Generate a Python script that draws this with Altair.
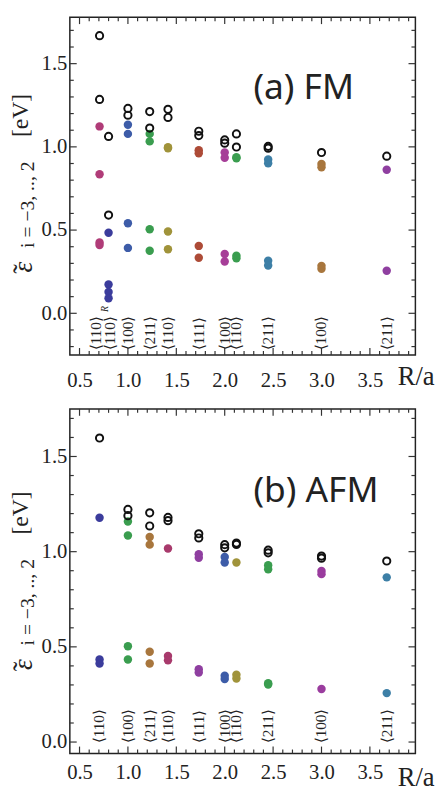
import altair as alt
import pandas as pd

SERIF = "Liberation Serif"
SANS = "Noto Sans"
INK = "#222222"

# colours
MAG1 = "#b03c78"; IND = "#3b3c9c"; BLU = "#3d5ca8"; GRN = "#3a9d4f"; OLV = "#a0933a"
RED = "#ad4b37"; MAG2 = "#a63e98"; TEAL = "#3d7fa6"; BRN = "#a8763d"; PUR = "#8f3fa0"
ROSE = "#a83a6c"; PUR2 = "#9a3c9e"

# ---------------- panel (a) FM ----------------
a_open_r = [0.707, 0.707, 0.8, 0.8, 1.0, 1.0, 1.225, 1.225, 1.414, 1.414, 1.732, 1.732,
            2.0, 2.0, 2.121, 2.121, 2.449, 2.449, 3.0, 3.674]
a_open_e = [1.668, 1.285, 1.063, 0.590, 1.231, 1.190, 1.212, 1.113, 1.226, 1.177, 1.094, 1.068,
            1.042, 1.022, 1.078, 0.999, 1.003, 0.992, 0.966, 0.944]

a_fill_r = [0.707] * 4 + [0.8] * 4 + [1.0] * 4 + [1.225] * 4 + [1.414] * 4 + [1.732] * 4 + \
           [2.0] * 4 + [2.121] * 4 + [2.449] * 4 + [3.0] * 4 + [3.674] * 2
a_fill_e = [1.123, 0.836, 0.425, 0.410,
            0.484, 0.173, 0.128, 0.090,
            1.133, 1.078, 0.541, 0.393,
            1.078, 1.033, 0.505, 0.376,
            0.998, 0.992, 0.492, 0.385,
            0.980, 0.962, 0.405, 0.334,
            0.966, 0.934, 0.356, 0.311,
            0.938, 0.932, 0.346, 0.331,
            0.924, 0.901, 0.316, 0.287,
            0.897, 0.877, 0.285, 0.267,
            0.862, 0.256]
a_fill_c = [MAG1] * 4 + [IND] * 4 + [BLU] * 4 + [GRN] * 4 + [OLV] * 4 + [RED] * 4 + \
           [MAG2] * 4 + [GRN] * 4 + [TEAL] * 4 + [BRN] * 4 + [PUR] * 2

# label positions along R/a (the first two are spread apart in the figure)
a_lab_r = [0.668, 0.82, 1.0, 1.225, 1.414, 1.732, 2.0, 2.121, 2.449, 3.0, 3.674]
a_lab_t = ["⟨110⟩", "⟨110⟩", "⟨100⟩", "⟨211⟩", "⟨110⟩", "⟨111⟩", "⟨100⟩", "⟨110⟩", "⟨211⟩", "⟨100⟩", "⟨211⟩"]

# ---------------- panel (b) AFM ----------------
b_open_r = [0.707, 1.0, 1.0, 1.225, 1.225, 1.414, 1.414, 1.732, 1.732, 2.0, 2.0,
            2.121, 2.121, 2.449, 2.449, 3.0, 3.0, 3.674]
b_open_e = [1.597, 1.222, 1.189, 1.204, 1.135, 1.180, 1.163, 1.094, 1.072, 1.037, 1.020,
            1.045, 1.038, 1.008, 0.994, 0.977, 0.966, 0.951]

b_fill_r = [0.707] * 3 + [1.0] * 4 + [1.225] * 4 + [1.414] * 3 + [1.732] * 4 + [2.0] * 4 + \
           [2.121] * 3 + [2.449] * 4 + [3.0] * 3 + [3.674] * 2
b_fill_e = [1.178, 0.434, 0.413,
            1.158, 1.085, 0.503, 0.434,
            1.077, 1.037, 0.474, 0.413,
            1.017, 0.452, 0.429,
            0.986, 0.968, 0.382, 0.365,
            0.972, 0.943, 0.348, 0.331,
            0.943, 0.353, 0.334,
            0.929, 0.908, 0.309, 0.302,
            0.899, 0.882, 0.279,
            0.865, 0.257]
b_fill_c = [IND] * 3 + [GRN] * 4 + [BRN] * 4 + [ROSE] * 3 + [PUR] * 4 + [BLU] * 4 + \
           [OLV] * 3 + [GRN] * 4 + [PUR2] * 3 + [TEAL] * 2

b_lab_r = [0.707, 1.0, 1.225, 1.414, 1.732, 2.0, 2.121, 2.449, 3.0, 3.674]
b_lab_t = ["⟨110⟩", "⟨100⟩", "⟨211⟩", "⟨110⟩", "⟨111⟩", "⟨100⟩", "⟨110⟩", "⟨211⟩", "⟨100⟩", "⟨211⟩"]

# axis ticks
x_labels = [0.5, 1.0, 1.5, 2.0, 2.5, 3.0, 3.5]
x_minor = [round(0.4 + 0.1 * k, 2) for k in range(1, 36)]
y_labels = [0.0, 0.5, 1.0, 1.5]
y_minor = [round(-0.2 + 0.1 * k, 2) for k in range(0, 20)]

XDOM = [0.4, 3.97]
W = 352


def one():
    return pd.DataFrame({"d": [0]})


def txt(text, x, y, size, angle=0, font=SERIF, style="normal", align="left"):
    kw = dict(text=text, font=font, fontSize=size, color=INK, align=align,
              baseline="alphabetic", fontStyle=style)
    if angle:
        kw["angle"] = angle
    return alt.Chart(one()).mark_text(**kw).encode(x=alt.value(x), y=alt.value(y))


def panel(open_r, open_e, fill_r, fill_e, fill_c, lab_r, lab_t, lab_y, ydom, H,
          xpad, ptext, pbase, tys, ra_y, sup=None):
    xs = alt.Scale(domain=XDOM, nice=False, zero=False)
    ys = alt.Scale(domain=ydom, nice=False, zero=False)
    xaxis = alt.Axis(values=x_labels, format=".1f", ticks=False, domain=False, grid=False,
                     labelFont=SERIF, labelFontSize=21, labelColor=INK, labelPadding=xpad,
                     labelFlush=False, title=None)
    yaxis = alt.Axis(values=y_labels, format=".1f", ticks=False, domain=False, grid=False,
                     labelFont=SERIF, labelFontSize=21, labelColor=INK, labelPadding=3,
                     title=None)

    def X(f):
        return alt.X(f, type="quantitative", scale=xs, axis=xaxis)

    def Y(f):
        return alt.Y(f, type="quantitative", scale=ys, axis=yaxis)

    layers = []
    xmaj = pd.DataFrame({"v": x_labels})
    xmin = pd.DataFrame({"v": [v for v in x_minor if v not in x_labels]})
    yv = [v for v in y_minor if ydom[0] < v < ydom[1]]
    ymaj = pd.DataFrame({"v": [v for v in yv if round(v * 2) == v * 2]})
    ymin = pd.DataFrame({"v": [v for v in yv if round(v * 2) != v * 2]})
    rule = dict(color="#333333", strokeWidth=1.2)
    for df, ln in [(xmaj, 7), (xmin, 4)]:
        layers.append(alt.Chart(df).mark_rule(**rule).encode(
            x=X("v"), y=alt.value(H), y2=alt.value(H - ln)))
        layers.append(alt.Chart(df).mark_rule(**rule).encode(
            x=X("v"), y=alt.value(0), y2=alt.value(ln)))
    for df, ln in [(ymaj, 7), (ymin, 4)]:
        layers.append(alt.Chart(df).mark_rule(**rule).encode(
            y=Y("v"), x=alt.value(0), x2=alt.value(ln)))
        layers.append(alt.Chart(df).mark_rule(**rule).encode(
            y=Y("v"), x=alt.value(W), x2=alt.value(W - ln)))

    labs = pd.DataFrame({"r": lab_r, "t": lab_t, "y": [lab_y] * len(lab_r)})
    layers.append(alt.Chart(labs).mark_text(angle=270, align="left", baseline="middle",
                                            font=SERIF, fontSize=15.5, color=INK).encode(
        x=X("r"), y=Y("y"), text="t:N"))
    if sup is not None:
        layers.append(alt.Chart(pd.DataFrame({"r": [sup[0]], "y": [sup[1]]})).mark_text(
            angle=270, align="left", baseline="alphabetic", font=SERIF, fontSize=10,
            fontStyle="italic", color=INK, text="R", dy=-1).encode(x=X("r"), y=Y("y")))

    fill = pd.DataFrame({"r": fill_r, "e": fill_e, "c": fill_c})
    layers.append(alt.Chart(fill).mark_circle(size=74, opacity=1).encode(
        x=X("r"), y=Y("e"), color=alt.Color("c:N", scale=None)))
    opn = pd.DataFrame({"r": open_r, "e": open_e})
    layers.append(alt.Chart(opn).mark_point(shape="circle", filled=False, size=54,
                                            strokeWidth=2, color="#111111", opacity=1).encode(
        x=X("r"), y=Y("e")))

    # panel label
    layers.append(txt(ptext, 187, pbase, 36, font=SANS))
    # y title pieces (rotated, reading upward)
    layers.append(txt("ε", -39, tys[0], 28, angle=270, style="italic"))
    layers.append(txt("˜", -39, tys[0] + 1, 28, angle=270))
    layers.append(txt("i = −3, .., 2", -37, tys[1], 20, angle=270))
    layers.append(txt("[eV]", -43, tys[2], 24, angle=270))
    # R/a
    layers.append(txt("R/a", 334, ra_y, 27))
    # invisible left anchor
    layers.append(alt.Chart(one()).mark_rule(opacity=0, strokeWidth=0.01).encode(
        x=alt.value(-62), x2=alt.value(-62), y=alt.value(0), y2=alt.value(1)))

    return alt.layer(*layers).properties(width=W, height=H)


pa = panel(a_open_r, a_open_e, a_fill_r, a_fill_e, a_fill_c, a_lab_r, a_lab_t, -0.223,
           [-0.25, 1.779], 344, 15, "(a) FM", 83, (260, 235, 122), 375, sup=(0.8, 0.008))
pb = panel(b_open_r, b_open_e, b_fill_r, b_fill_e, b_fill_c, b_lab_r, b_lab_t, -0.007,
           [-0.06, 1.75], 351, 9, "(b) AFM", 95, (266, 241, 128), 384)

chart = alt.vconcat(pa, pb, spacing=55, bounds="flush").configure_view(
    stroke=INK, strokeWidth=1.5).properties(
    padding={"left": 0, "top": 0, "right": 0, "bottom": 0})

chart.save("out.html", embed_options={"renderer": "svg", "actions": False})
